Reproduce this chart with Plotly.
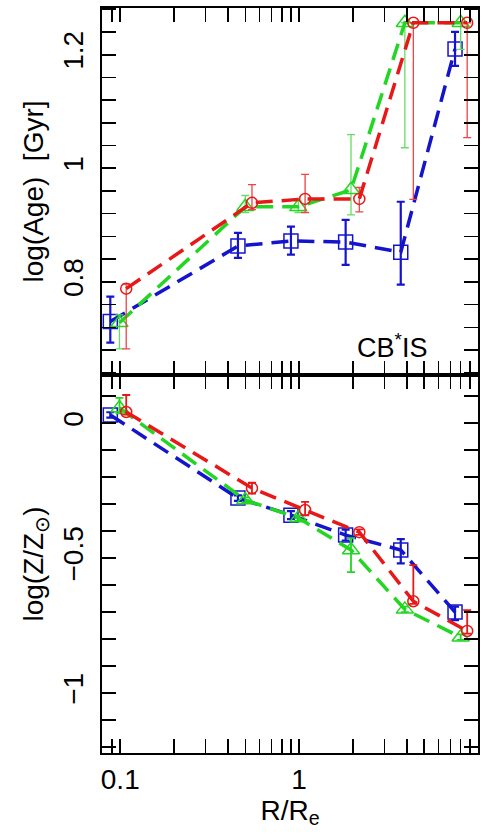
import plotly.graph_objects as go

# ---- data ----
blue_x = [0.088, 0.455, 0.90, 1.82, 3.70, 7.44]
green_x = [0.099, 0.50, 0.99, 1.95, 3.90, 8.0]
red_x = [0.108, 0.545, 1.08, 2.17, 4.35, 8.7]

# top panel: log(Age)
age_blue = [0.730, 0.863, 0.872, 0.870, 0.852, 1.210]
age_blue_up = [0.044, 0.023, 0.025, 0.039, 0.089, 0.030]
age_blue_dn = [0.037, 0.021, 0.024, 0.040, 0.057, 0.030]

age_green = [0.728, 0.932, 0.932, 0.962, 1.256, 1.256]
age_green_up = [0.014, 0.020, 0.010, 0.097, 0.0, 0.0]
age_green_dn = [0.046, 0.010, 0.010, 0.044, 0.220, 0.047]

age_red = [0.788, 0.939, 0.946, 0.946, 1.256, 1.256]
age_red_up = [0.008, 0.032, 0.043, 0.020, 0.0, 0.0]
age_red_dn = [0.106, 0.012, 0.024, 0.023, 0.311, 0.202]

# bottom panel: log(Z/Zsun)
z_blue = [0.030, -0.278, -0.341, -0.415, -0.470, -0.700]
z_blue_up = [0.010, 0.010, 0.015, 0.020, 0.040, 0.020]
z_blue_dn = [0.010, 0.010, 0.015, 0.020, 0.050, 0.030]

z_green = [0.056, -0.285, -0.352, -0.470, -0.690, -0.793]
z_green_up = [0.037, 0.010, 0.010, 0.044, 0.010, 0.010]
z_green_dn = [0.020, 0.010, 0.010, 0.082, 0.010, 0.010]

z_red = [0.041, -0.241, -0.322, -0.404, -0.660, -0.770]
z_red_up = [0.063, 0.020, 0.030, 0.010, 0.134, 0.077]
z_red_dn = [0.010, 0.020, 0.020, 0.010, 0.010, 0.010]

x_ticks = [0.1, 1]
x_ticklabels = ["0.1", "1"]
x_minor = [0.08, 0.09, 0.2, 0.3, 0.4, 0.5, 0.6, 0.7, 0.8, 0.9, 2, 3, 4, 5, 6, 7, 8, 9]
age_ticks = [0.8, 1.0, 1.2]
age_ticklabels = ["0.8", "1", "1.2"]
z_ticks = [-1, -0.5, 0]
z_ticklabels = ["\u22121", "\u22120.5", "0"]

BLUE = "#1414cc"
GREEN = "#22d622"
GREEN_ERR = "#66dd66"
RED = "#e81818"
RED_ERR = "#ee4444"

FONT = "Liberation Sans, Arial, Helvetica, sans-serif"

fig = go.Figure()


def add_series(x, y, up, dn, color, ecolor, ethick, symbol, msize, xa, ya):
    fig.add_trace(go.Scatter(
        x=x, y=y, mode="lines+markers", xaxis=xa, yaxis=ya,
        line=dict(color=color, width=3.5, dash="17px,9px"),
        marker=dict(symbol=symbol, size=msize, color=color,
                    line=dict(color=color, width=1.5)),
        error_y=dict(type="data", symmetric=False, array=up, arrayminus=dn,
                     color=ecolor, thickness=ethick, width=4),
        showlegend=False, cliponaxis=True, hoverinfo="skip",
    ))


# top panel (x2, y2)
add_series(blue_x, age_blue, age_blue_up, age_blue_dn, BLUE, BLUE, 2.2, "square-open", 14, "x2", "y2")
add_series(green_x, age_green, age_green_up, age_green_dn, GREEN, GREEN_ERR, 1.3, "triangle-up-open", 15, "x2", "y2")
add_series(red_x, age_red, age_red_up, age_red_dn, RED, RED_ERR, 1.3, "circle-open", 11, "x2", "y2")

# bottom panel (x, y)
add_series(blue_x, z_blue, z_blue_up, z_blue_dn, BLUE, BLUE, 2.2, "square-open", 14, "x", "y")
add_series(green_x, z_green, z_green_up, z_green_dn, GREEN, GREEN, 1.8, "triangle-up-open", 15, "x", "y")
add_series(red_x, z_red, z_red_up, z_red_dn, RED, RED, 1.8, "circle-open", 11, "x", "y")

# empty helper traces so the opposite-side tick axes exist as subplots
for xa, ya in [("x3", "y"), ("x", "y3"), ("x4", "y2"), ("x2", "y4")]:
    fig.add_trace(go.Scatter(x=[], y=[], xaxis=xa, yaxis=ya, showlegend=False,
                             hoverinfo="skip"))

split = 378 / 745
xr = [-1.102, 1.0]
yr_z = [-1.222, 0.178]
yr_age = [0.636, 1.282]

axis_common = dict(
    showline=True, linecolor="black", linewidth=2, mirror="allticks",
    ticks="inside", ticklen=14, tickwidth=2, tickcolor="black",
    showgrid=False, zeroline=False, automargin=False,
    tickfont=dict(family=FONT, size=28, color="black"),
)
overlay_common = dict(
    showline=True, linecolor="black", linewidth=2, mirror="allticks",
    ticks="inside", ticklen=14, tickwidth=2, tickcolor="black",
    showgrid=False, zeroline=False, automargin=False, showticklabels=False,
)
minor_x = dict(ticks="inside", ticklen=7, tickwidth=1.5, tickcolor="black",
               tickvals=x_minor, showgrid=False)
minor_z = dict(ticks="inside", ticklen=7, tickwidth=1.5, tickcolor="black",
               dtick=0.1, tick0=0, showgrid=False)
minor_age = dict(ticks="inside", ticklen=7, tickwidth=1.5, tickcolor="black",
                 dtick=0.04, tick0=0, showgrid=False)

fig.update_layout(
    width=487, height=840,
    margin=dict(l=102, r=9, t=8, b=87, autoexpand=False),
    paper_bgcolor="white", plot_bgcolor="white",
    font=dict(family=FONT, color="black"),
    hovermode=False,
    xaxis=dict(
        type="log", range=xr, anchor="y", domain=[0, 1],
        tickvals=x_ticks, ticktext=x_ticklabels, minor=minor_x,
        title=dict(text="R/R<sub>e</sub>", font=dict(family=FONT, size=28), standoff=2),
        **axis_common,
    ),
    xaxis2=dict(
        type="log", range=xr, anchor="y2", domain=[0, 1],
        tickvals=x_ticks, showticklabels=False, minor=minor_x,
        **axis_common,
    ),
    xaxis3=dict(type="log", range=xr, anchor="y", overlaying="x", side="top",
                tickvals=x_ticks, minor=minor_x, **overlay_common),
    xaxis4=dict(type="log", range=xr, anchor="y2", overlaying="x2", side="top",
                tickvals=x_ticks, minor=minor_x, **overlay_common),
    yaxis=dict(
        range=yr_z, domain=[0, split], anchor="x",
        tickvals=z_ticks, ticktext=z_ticklabels,
        tickangle=-90, ticklabelstandoff=6, minor=minor_z,
        title=dict(text="log(Z/Z<sub>\u2299</sub>)", font=dict(family=FONT, size=28), standoff=6),
        **axis_common,
    ),
    yaxis2=dict(
        range=yr_age, domain=[split, 1], anchor="x2",
        tickvals=age_ticks, ticktext=age_ticklabels,
        tickangle=-90, ticklabelstandoff=6, minor=minor_age,
        title=dict(text="log(Age)  [Gyr]", font=dict(family=FONT, size=28), standoff=6),
        **axis_common,
    ),
    yaxis3=dict(range=yr_z, anchor="x", overlaying="y", side="right",
                tickvals=z_ticks, minor=minor_z, **overlay_common),
    yaxis4=dict(range=yr_age, anchor="x2", overlaying="y2", side="right",
                tickvals=age_ticks, minor=minor_age, **overlay_common),
    annotations=[dict(
        text="CB<sup>*</sup>IS", xref="x2 domain", yref="y2 domain",
        x=0.77, y=0.08, showarrow=False, xanchor="center", yanchor="middle",
        font=dict(family=FONT, size=27, color="black"),
    )],
)

fig.write_html("out.html", config={"displayModeBar": False, "staticPlot": True},
               post_script="document.body.style.margin='0px';")
